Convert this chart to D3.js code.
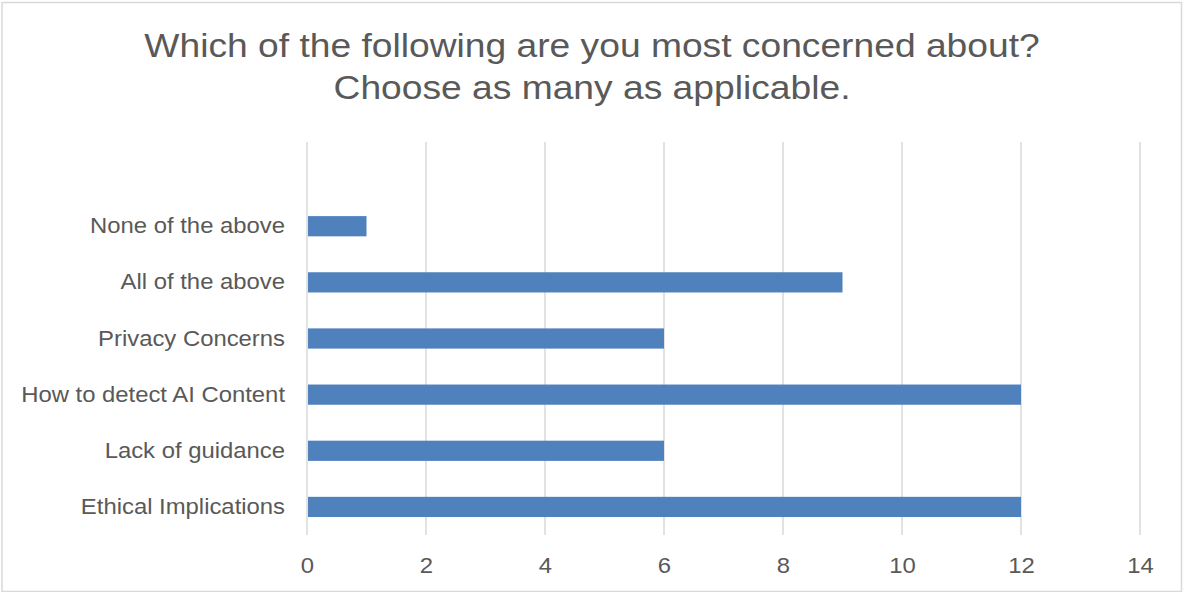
<!DOCTYPE html>
<html>
<head>
<meta charset="utf-8">
<script src="https://cdn.jsdelivr.net/npm/d3@7"></script>
<style>
  html, body { margin: 0; padding: 0; background: #fff; }
  body { width: 1184px; height: 592px; overflow: hidden; }
  text { font-family: "Liberation Sans", Arial, sans-serif; fill: #595959; }
</style>
</head>
<body>
<script>
var categories = ['Ethical Implications', 'Lack of guidance', 'How to detect AI Content',
    'Privacy Concerns', 'All of the above', 'None of the above']
var counts = [12, 6, 12, 6, 9, 1]
var xTicks = [0, 2, 4, 6, 8, 10, 12, 14]
var titleLines = ['Which of the following are you most concerned about?', 'Choose as many as applicable.']

var width = 1184
var height = 592
// the reference text is a little wider than Arial, so stretch it sideways
var titleStretch = 1.145
var labelStretch = 1.085

var svg = d3.select('body').append('svg')
    .attr('width', width)
    .attr('height', height)

// chart border
svg.append('rect')
    .attr('x', 2)
    .attr('y', 2.5)
    .attr('width', width - 4.5)
    .attr('height', height - 3)
    .style('fill', 'none')
    .style('stroke', '#d9d9d9')
    .style('stroke-width', 1.5)

var plotTop = 142
var plotBottom = 535
var step = (plotBottom - plotTop) / (categories.length + 1)

var x = d3.scaleLinear()
    .domain([0, 14])
    .range([307, 1140])

var y = d3.scaleBand()
    .domain(categories)
    .range([plotBottom, plotTop + step])
    .paddingInner(0.64)
    .paddingOuter(0.32)

// title
svg.append('g')
    .attr('class', 'title')
    .selectAll('text')
    .data(titleLines)
    .enter().append('text')
    .attr('transform', function(d, i) {
        return 'translate(592,' + (57 + i * 42) + ') scale(' + titleStretch + ',1)'
    })
    .attr('text-anchor', 'middle')
    .style('font-size', '32.5px')
    .text(function(d) { return d })

// gridlines
svg.append('g')
    .attr('class', 'grid')
    .selectAll('line')
    .data(xTicks)
    .enter().append('line')
    .attr('x1', function(d) { return x(d) })
    .attr('x2', function(d) { return x(d) })
    .attr('y1', plotTop)
    .attr('y2', plotBottom)
    .style('stroke', '#d9d9d9')
    .style('stroke-width', 1.5)

// bars
svg.append('g')
    .attr('class', 'bars')
    .selectAll('rect')
    .data(categories)
    .enter().append('rect')
    .attr('x', x(0) + 1)
    .attr('y', function(d) { return y(d) })
    .attr('width', function(d, i) { return x(counts[i]) - x(0) - 1 })
    .attr('height', y.bandwidth())
    .style('fill', '#4f81bd')

// x axis labels
var xAxis = d3.axisBottom(x)
    .tickValues(xTicks)
    .tickSize(0)
    .tickPadding(0)

var gx = svg.append('g')
    .attr('transform', 'translate(0,' + (plotBottom + 22) + ')')
    .call(xAxis)
gx.select('.domain').remove()
gx.selectAll('text')
    .attr('dy', '0.71em')
    .attr('transform', 'scale(' + labelStretch + ',1)')
    .style('font-size', '22px')
    .style('fill', '#595959')
    .style('font-family', '"Liberation Sans", Arial, sans-serif')

// y axis labels
var yAxis = d3.axisLeft(y)
    .tickSize(0)
    .tickPadding(22)

var gy = svg.append('g')
    .attr('transform', 'translate(' + x(0) + ',0)')
    .call(yAxis)
gy.select('.domain').remove()
gy.selectAll('text')
    .attr('x', -22 / labelStretch)
    .attr('transform', 'scale(' + labelStretch + ',1)')
    .style('font-size', '22px')
    .style('fill', '#595959')
    .style('font-family', '"Liberation Sans", Arial, sans-serif')
</script>
</body>
</html>
